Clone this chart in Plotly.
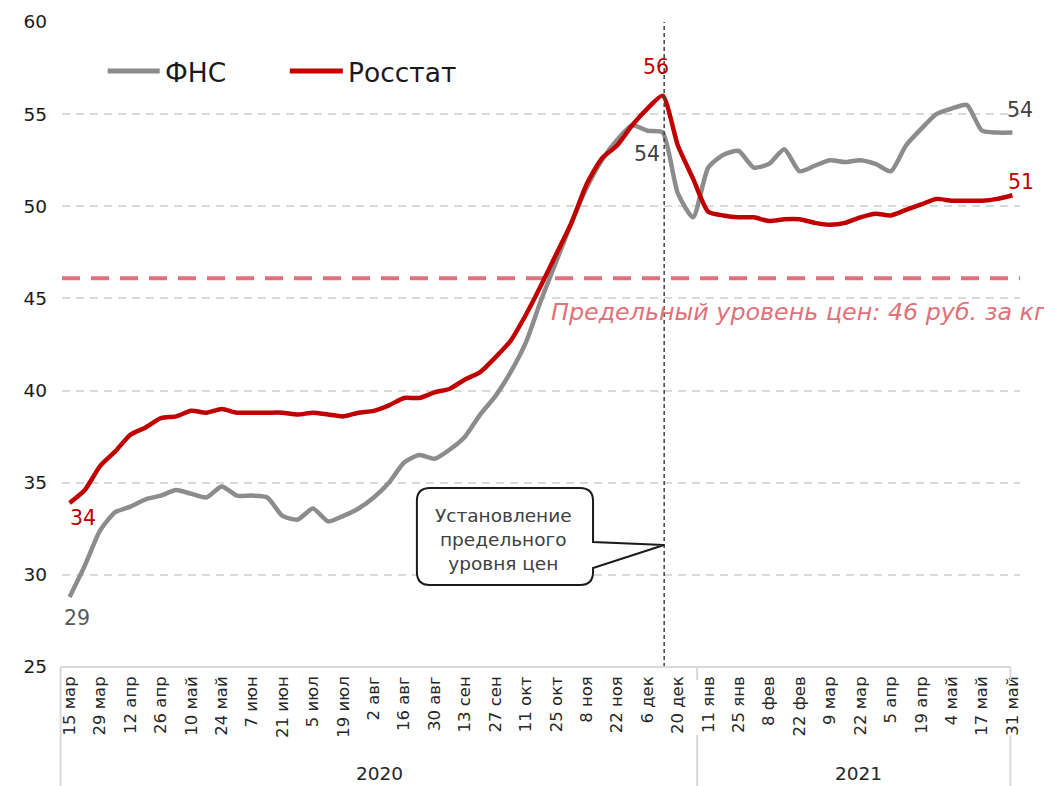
import plotly.graph_objects as go

# ---------------- data ----------------
tick_labels = ["15 мар", "29 мар", "12 апр", "26 апр", "10 май", "24 май", "7 июн", "21 июн",
               "5 июл", "19 июл", "2 авг", "16 авг", "30 авг", "13 сен", "27 сен", "11 окт",
               "25 окт", "8 ноя", "22 ноя", "6 дек", "20 дек",
               "11 янв", "25 янв", "8 фев", "22 фев", "9 мар", "22 мар", "5 апр", "19 апр",
               "4 май", "17 май", "31 май"]
years = ["2020", "2021"]
year_sizes = [42, 21]  # weekly points per year

fns = [28.8, 30.5, 32.4, 33.4, 33.7, 34.1, 34.3, 34.6, 34.4, 34.2,
       34.8, 34.3, 34.3, 34.2, 33.2, 33.0, 33.6, 32.9, 33.2, 33.6,
       34.2, 35.0, 36.1, 36.5, 36.3, 36.8, 37.5, 38.7, 39.7, 41.0,
       42.6, 44.9, 47.0, 49.1, 51.0, 52.5, 53.6, 54.4, 54.1, 54.0,
       50.7, 49.4, 52.1, 52.8, 53.0, 52.1, 52.3, 53.1, 51.9, 52.2,
       52.5, 52.4, 52.5, 52.3, 51.9, 53.3, 54.2, 55.0, 55.3, 55.5,
       54.1, 54.0, 54.0]
rosstat = [33.9, 34.6, 35.9, 36.7, 37.6, 38.0, 38.5, 38.6, 38.9, 38.8,
           39.0, 38.8, 38.8, 38.8, 38.8, 38.7, 38.8, 38.7, 38.6, 38.8,
           38.9, 39.2, 39.6, 39.6, 39.9, 40.1, 40.6, 41.0, 41.8, 42.7,
           44.1, 45.7, 47.4, 49.1, 51.2, 52.6, 53.3, 54.4, 55.3, 56.0,
           53.3, 51.5, 49.7, 49.5, 49.4, 49.4, 49.2, 49.3, 49.3, 49.1,
           49.0, 49.1, 49.4, 49.6, 49.5, 49.8, 50.1, 50.4, 50.3, 50.3,
           50.3, 50.4, 50.6]
price_cap = 46.1
cap_index = 39.1  # position of the cap-introduction marker (between 6 and 20 дек)

# ---------------- styling ----------------
GRAY = "#8C8C8C"
RED = "#C00000"
PINK = "#E0707A"
FONT = "'DejaVu Sans', 'Noto Sans', sans-serif"

# page offset of the figure (browser body margin)
OFF = 8
W, H = 1052 - OFF, 786 - OFF
# plot area in reference-page pixels
L, R, T, B = 62.4, 1019.6, 22, 667
PW, PH = R - L, B - T


def px(x):
    return (x - L) / PW


def py(y):
    return (B - y) / PH


n = len(fns)
xs = list(range(n))

fig = go.Figure()
fig.add_trace(go.Scatter(x=xs, y=fns, mode="lines", name="ФНС",
                         line=dict(color=GRAY, width=4.5, shape="spline", smoothing=0.6),
                         showlegend=False))
fig.add_trace(go.Scatter(x=xs, y=rosstat, mode="lines", name="Росстат",
                         line=dict(color=RED, width=4.5, shape="spline", smoothing=0.6),
                         showlegend=False))

shapes = []
# price cap line
shapes.append(dict(type="line", xref="paper", yref="y", x0=0, x1=1, y0=price_cap, y1=price_cap,
                   line=dict(color=PINK, width=4, dash="18px,11px"), layer="below"))
# vertical marker line
shapes.append(dict(type="line", xref="x", yref="paper", x0=cap_index, x1=cap_index, y0=0, y1=1,
                   line=dict(color="#404040", width=1.5, dash="4px,3px")))
# x axis line + multi-level axis separators
AX = "#D9D9D9"
shapes.append(dict(type="line", xref="paper", yref="paper", x0=px(61), x1=px(1010), y0=0, y1=0,
                   line=dict(color=AX, width=2)))
bounds = [61, 697, 1010]
for i, bx in enumerate(bounds):
    if i == 0:
        shapes.append(dict(type="line", xref="paper", yref="paper", x0=px(bx), x1=px(bx),
                           y0=py(667), y1=py(786), line=dict(color=AX, width=2)))
    else:
        shapes.append(dict(type="line", xref="paper", yref="paper", x0=px(bx), x1=px(bx),
                           y0=py(667), y1=py(680), line=dict(color=AX, width=2)))
        shapes.append(dict(type="line", xref="paper", yref="paper", x0=px(bx), x1=px(bx),
                           y0=py(735), y1=py(786), line=dict(color=AX, width=2)))

# callout box
pts = [("M", 430, 488), ("L", 580, 488), ("Q", 593, 488, 593, 501), ("L", 593, 542),
       ("L", 664, 545), ("L", 593, 568), ("L", 593, 572), ("Q", 593, 585, 580, 585),
       ("L", 430, 585), ("Q", 417, 585, 417, 572), ("L", 417, 501), ("Q", 417, 488, 430, 488)]
path = ""
for p in pts:
    cmd = p[0]
    coords = p[1:]
    parts = []
    for j in range(0, len(coords), 2):
        parts.append(f"{px(coords[j]):.5f},{py(coords[j+1]):.5f}")
    path += cmd + " " + " ".join(parts) + " "
path += "Z"
shapes.append(dict(type="path", xref="paper", yref="paper", path=path,
                   fillcolor="white", line=dict(color="#1A1A1A", width=2)))

# legend (custom)
shapes.append(dict(type="line", xref="paper", yref="paper", x0=px(108), x1=px(160), y0=py(71), y1=py(71),
                   line=dict(color=GRAY, width=5)))
shapes.append(dict(type="line", xref="paper", yref="paper", x0=px(290), x1=px(343), y0=py(71), y1=py(71),
                   line=dict(color=RED, width=5)))

annotations = []
annotations.append(dict(xref="paper", yref="paper", x=px(163), y=py(72), text="ФНС", showarrow=False,
                        xanchor="left", yanchor="middle", font=dict(size=26.5, color="#1A1A1A", family=FONT)))
annotations.append(dict(xref="paper", yref="paper", x=px(346), y=py(72), text="Росстат", showarrow=False,
                        xanchor="left", yanchor="middle", font=dict(size=26.5, color="#1A1A1A", family=FONT)))
# callout text
annotations.append(dict(xref="paper", yref="paper", x=px(504), y=py(539),
                        text="Установление<br>предельного<br>уровня цен", showarrow=False,
                        xanchor="center", yanchor="middle", align="center",
                        font=dict(size=18.5, color="#404040", family=FONT)))
# price cap label
annotations.append(dict(xref="paper", yref="paper", x=px(549), y=py(312),
                        text="Предельный уровень цен: 46 руб. за кг", showarrow=False,
                        xanchor="left", yanchor="middle",
                        font=dict(size=23.8, color=PINK, family=FONT, style="italic")))
# year labels
for yr, cx in zip(years, [380, 858]):
    annotations.append(dict(xref="paper", yref="paper", x=px(cx), y=py(773), text=yr, showarrow=False,
                            xanchor="center", yanchor="middle",
                            font=dict(size=18.5, color="#262626", family=FONT)))


# data labels
def dlabel(i, series, color, dx, dy):
    annotations.append(dict(xref="x", yref="y", x=i, y=series[i], text=f"{series[i]:.0f}",
                            showarrow=False, xanchor="center", yanchor="middle",
                            xshift=dx, yshift=dy, font=dict(size=20.5, color=color, family=FONT)))


dlabel(0, fns, "#595959", 7, -21)
dlabel(0, rosstat, RED, 13, -15)
dlabel(39, rosstat, RED, -7, 29)
dlabel(38, fns, "#404040", 0, -23)
dlabel(n - 1, fns, "#404040", 8, 23)
dlabel(n - 1, rosstat, RED, 9, 13)

tickvals = list(range(0, n, 2))

fig.update_layout(
    width=W, height=H,
    margin=dict(l=L - OFF, r=W - (R - OFF), t=T - OFF, b=H - (B - OFF), pad=0),
    paper_bgcolor="white", plot_bgcolor="white",
    font=dict(family=FONT, color="#262626"),
    shapes=shapes, annotations=annotations,
    showlegend=False,
    xaxis=dict(range=[-0.5, n - 0.5], tickmode="array", tickvals=tickvals, ticktext=tick_labels,
               tickangle=-90, showgrid=False, zeroline=False, showline=False, ticks="",
               automargin=False,
               tickfont=dict(size=16.5, color="#262626", family=FONT), ticklabelstandoff=5),
    yaxis=dict(range=[25, 60], tickmode="array", tickvals=[25, 30, 35, 40, 45, 50, 55, 60],
               showgrid=True, gridcolor="#D9D9D9", gridwidth=1.5, griddash="8px,6px",
               zeroline=False, showline=False, ticks="", automargin=False,
               tickfont=dict(size=18.5, color="#1A1A1A", family=FONT), ticklabelstandoff=14),
)

fig.write_html("out.html")
